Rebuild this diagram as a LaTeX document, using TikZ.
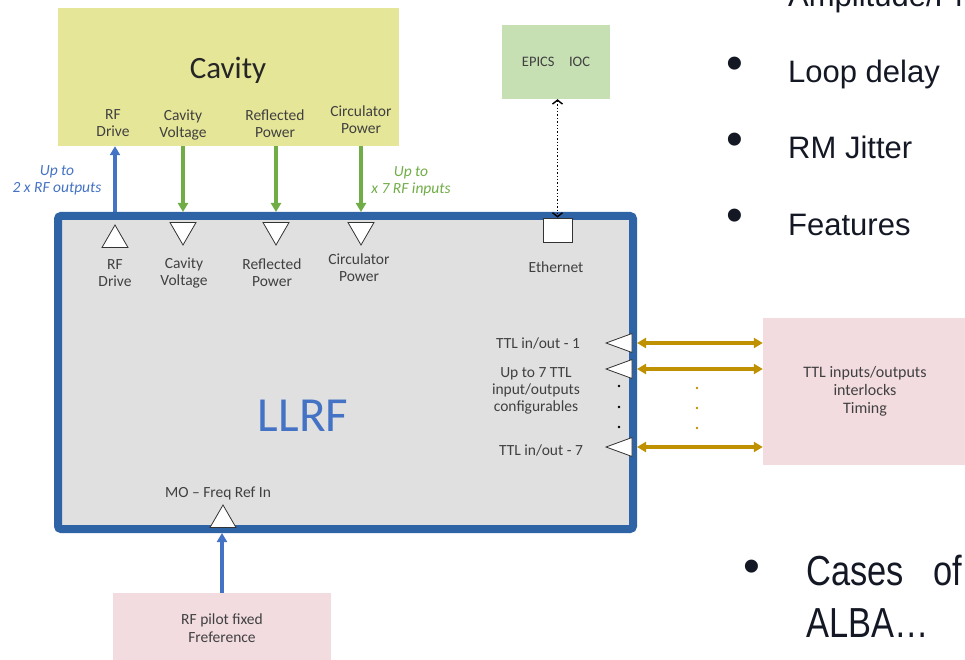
\documentclass[tikz,border=0pt]{standalone}
\usepackage{fontspec}
\setmainfont{Carlito}
\newfontfamily\slidefont{Liberation Sans}
\newfontfamily\slidenarrow[FakeStretch=0.82]{Liberation Sans}
\usetikzlibrary{arrows.meta,shapes.geometric}
\definecolor{cavyel}{RGB}{229,230,152}
\definecolor{epgreen}{RGB}{198,224,180}
\definecolor{pinkbox}{RGB}{242,220,224}
\definecolor{llrfgray}{RGB}{224,224,224}
\definecolor{llrfblue}{RGB}{46,99,166}
\definecolor{arrblue}{RGB}{68,114,196}
\definecolor{arrgreen}{RGB}{112,173,71}
\definecolor{ttlgold}{RGB}{191,144,0}
\definecolor{slidetxt}{RGB}{20,24,36}

\begin{document}
\begin{tikzpicture}[x=1pt,y=-1pt,
    box/.style={inner sep=0, align=center, text=black!75, font=\fontsize{14}{18}\selectfont},
    lbl/.style={inner sep=0, align=center, text=black!75, font=\fontsize{15.5}{17}\selectfont},
    note/.style={inner sep=0, align=center, font=\itshape\fontsize{15.5}{16.5}\selectfont},
    tri/.style={draw=black!80, fill=white, regular polygon, regular polygon sides=3, minimum size=30pt, inner sep=0, line width=0.8pt},
    trin/.style={tri, regular polygon rotate=180},
    tril/.style={draw=black!80, fill=white, isosceles triangle, isosceles triangle stretches, shape border rotate=180, minimum width=19pt, minimum height=26pt, inner sep=0, line width=0.8pt},
    barr/.style={-{Triangle[length=9pt,width=10pt]}, line width=3.2pt, arrblue},
    garr/.style={-{Triangle[length=9pt,width=10pt]}, line width=3.2pt, arrgreen},
    oarr/.style={{Triangle[length=9pt,width=10pt]}-{Triangle[length=9pt,width=10pt]}, line width=3.2pt, ttlgold},
    darr/.style={{Straight Barb[length=4pt,width=10pt]}-{Straight Barb[length=4pt,width=10pt]}, dotted, line width=1.4pt},
    bul/.style={anchor=base west, inner sep=0, text=slidetxt, font=\slidefont\fontsize{31}{37}\selectfont},
    bdot/.style={inner sep=0, text=slidetxt, font=\slidefont\fontsize{48}{50}\selectfont}
]
\path[use as bounding box] (0,0) rectangle (965,660);
\clip (0,0) rectangle (965,660);

\node[box, fill=cavyel, minimum width=341pt, minimum height=138pt] (cav) at (228.5,77) {};
\node[lbl, text=black!85, font=\fontsize{31}{36}\selectfont] (cavt) at (228,70) {Cavity};
\node[lbl] (cavrf) at (113,123) {RF\\Drive};
\node[lbl] (cavvolt) at (183,125) {Cavity\\Voltage};
\node[lbl] (cavrefl) at (275,124) {Reflected\\Power};
\node[lbl] (cavcirc) at (361,119.5) {Circulator\\Power};

\node[box, fill=epgreen, minimum width=108pt, minimum height=74pt, font=\fontsize{14.5}{16}\selectfont] (epics) at (556,62) {EPICS\quad IOC};

\node[draw=llrfblue, line width=8pt, fill=llrfgray, rounded corners=3pt, minimum width=575pt, minimum height=313pt, inner sep=0] (llrf) at (345.5,372.5) {};
\node[inner sep=0, text=arrblue, font=\fontsize{49}{56}\selectfont] (llrft) at (303,416) {LLRF};

\node[tri] (rfdrv) at (115,240) {};
\node[trin] (volt) at (183,230) {};
\node[trin] (refl) at (276,230) {};
\node[trin] (circ) at (361,230) {};
\node[lbl] (rfdrvl) at (115,273) {RF\\Drive};
\node[lbl] (voltl) at (184,272.5) {Cavity\\Voltage};
\node[lbl] (refll) at (272,272.5) {Reflected\\Power};
\node[lbl] (circl) at (359,267.5) {Circulator\\Power};

\node[draw=black!80, fill=white, line width=0.8pt, minimum width=29pt, minimum height=24pt, inner sep=0] (eth) at (557.5,230) {};
\node[lbl] (ethl) at (556,267) {Ethernet};

\node[tril, anchor=apex] (ttla) at (605,343) {};
\node[tril, anchor=apex] (ttlb) at (605,369) {};
\node[tril, anchor=apex] (ttlc) at (605,447) {};
\node[lbl] (ttlal) at (538,343) {TTL in/out - 1};
\node[lbl] (ttlbl) at (536,390.5) {Up to 7 TTL\\input/outputs\\configurables};
\node[lbl] (ttlcl) at (541,450) {TTL in/out - 7};
\foreach \y in {386,407,427} \fill[black] (619,\y) circle (1.4);

\node[box, fill=pinkbox, minimum width=204pt, minimum height=147pt, font=\fontsize{16}{18}\selectfont] (ttlbox) at (865,391.5) {TTL inputs/outputs\\interlocks\\Timing};
\foreach \y in {388,408,428} \fill[ttlgold] (697,\y) circle (1.4);

\node[tri] (mo) at (223,520) {};
\node[lbl] (mol) at (218,493) {MO -- Freq Ref In};
\node[box, fill=pinkbox, minimum width=218pt, minimum height=70pt, font=\fontsize{15.5}{18}\selectfont] (pilot) at (222,628) {RF pilot fixed\\Freference};

\node[note, text=arrblue] (rfout) at (57,180.5) {Up to\\2 x RF outputs};
\node[note, text=arrgreen] (rfin) at (411,181.5) {Up to\\x 7 RF inputs};

\draw[barr] (llrf.north -| rfdrv) -- (cav.south -| rfdrv);
\draw[garr] (cav.south -| volt) -- (llrf.north -| volt);
\draw[garr] (cav.south -| refl) -- (llrf.north -| refl);
\draw[garr] (cav.south -| circ) -- (llrf.north -| circ);
\draw[darr] (epics.south -| eth.north) -- (eth.north);
\draw[oarr] (llrf.east |- ttla.apex) -- (ttlbox.west |- ttla.apex);
\draw[oarr] (llrf.east |- ttlb.apex) -- (ttlbox.west |- ttlb.apex);
\draw[oarr] (llrf.east |- ttlc.apex) -- (ttlbox.west |- ttlc.apex);
\draw[barr] (pilot.north) -- (llrf.south -| pilot.north);

\node[bul] (b0) at (788,7) {Amplitude/Phase};
\node[bdot] (d1) at (735,68) {\textbullet};
\node[bul] (b1) at (788,83) {Loop delay};
\node[bdot] (d2) at (735,144) {\textbullet};
\node[bul] (b2) at (788,159) {RM Jitter};
\node[bdot] (d3) at (735,220) {\textbullet};
\node[bul] (b3) at (788,235) {Features};
\node[bdot] (d4) at (752,571) {\textbullet};
\node[bul, font=\slidenarrow\fontsize{42}{52}\selectfont] (b4) at (806,585) {Cases};
\node[bul, anchor=base east, font=\slidenarrow\fontsize{42}{52}\selectfont] (b4o) at (962,585) {of};
\node[bul, font=\slidenarrow\fontsize{42}{52}\selectfont] (b5) at (806,637) {ALBA\ldots};
\end{tikzpicture}
\end{document}
